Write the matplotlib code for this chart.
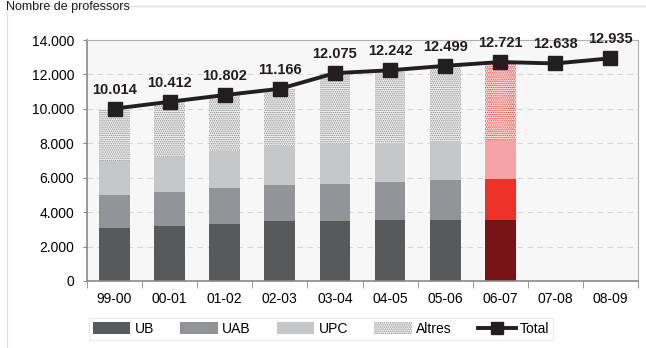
import numpy as np
import matplotlib.pyplot as plt
from matplotlib.lines import Line2D
from matplotlib.patches import Patch, Rectangle

plt.rcParams['font.family'] = ['Liberation Sans', 'DejaVu Sans']
plt.rcParams['hatch.linewidth'] = 0.7

cursos = ["99-00", "00-01", "01-02", "02-03", "03-04", "04-05", "05-06", "06-07", "07-08", "08-09"]
ub = [3100, 3200, 3320, 3490, 3490, 3550, 3550, 3570]
uab = [1910, 1980, 2100, 2100, 2160, 2220, 2330, 2370]
upc = [1980, 2000, 2150, 2230, 2310, 2230, 2230, 2270]
total = [10014, 10412, 10802, 11166, 12075, 12242, 12499, 12721, 12638, 12935]
altres = [t - a - b - c for t, a, b, c in zip(total, ub, uab, upc)]

grey = ["#58595b", "#929497", "#c6c7c9", "#f2f2f2"]
red = ["#7a1315", "#ee3129", "#f5a3a5", "#fde9e9"]
hatch_grey = "#8a8a8a"
hatch_red = "#ee3129"
patro = "........"

fig = plt.figure(figsize=(6.46, 3.48), dpi=100)
ax = fig.add_axes([87 / 646, 1 - 281 / 348, 551 / 646, 241 / 348])
ax.set_facecolor("#f7f7f7")

x = np.arange(len(cursos))
nb = len(ub)
w = 0.56
for i in range(nb):
    cols = red if i == 7 else grey
    hc = hatch_red if i == 7 else hatch_grey
    bottom = 0
    for j, serie in enumerate([ub, uab, upc, altres]):
        if j < 3:
            ax.bar(x[i], serie[i], w, bottom=bottom, color=cols[j], linewidth=0, zorder=2)
        else:
            ax.bar(x[i], serie[i], w, bottom=bottom, color=cols[j], edgecolor=hc,
                   hatch=patro, linewidth=0, zorder=2)
        bottom += serie[i]

ax.plot(x, total, color="#231f20", lw=2.8, marker="s", ms=10, zorder=4)
for xi, t in zip(x, total):
    ax.text(xi, t + 700, f"{t:,}".replace(",", "."), ha="center", va="bottom",
            fontsize=10.5, fontweight="bold", color="#231f20", zorder=5)

ax.set_xlim(-0.5, len(cursos) - 0.5)
ax.set_ylim(0, 14000)
ax.set_yticks(range(0, 14001, 2000))
ax.set_yticklabels(["0" if v == 0 else f"{v:,}".replace(",", ".") for v in range(0, 14001, 2000)],
                   fontsize=10)
ax.set_xticks(x)
ax.set_xticklabels(cursos, fontsize=10)
ax.set_xticks(np.arange(-0.5, len(cursos), 1), minor=True)
ax.tick_params(axis="x", which="major", length=0, pad=8)
ax.tick_params(axis="x", which="minor", length=5, color="#888888")
ax.tick_params(axis="y", length=3, color="#888888", pad=6)
ax.grid(axis="y", color="#d8d8d8", ls=(0, (5, 4)), lw=0.8, zorder=1)
ax.set_axisbelow(True)
for s in ["top", "right"]:
    ax.spines[s].set_color("#b0b0b0")
for s in ["left", "bottom"]:
    ax.spines[s].set_color("#888888")
    ax.spines[s].set_linewidth(1.2)

handles = [
    Patch(facecolor=grey[0], label="UB"),
    Patch(facecolor=grey[1], label="UAB"),
    Patch(facecolor=grey[2], label="UPC"),
    Patch(facecolor=grey[3], edgecolor=hatch_grey, hatch=patro, linewidth=0, label="Altres"),
    Line2D([], [], color="#231f20", lw=2.8, marker="s", ms=8, label="Total"),
]
leg = fig.legend(handles=handles, loc="center", bbox_to_anchor=(321 / 646, 1 - 329 / 348),
                 ncol=5, fontsize=10, frameon=True, fancybox=False, handlelength=2.7,
                 handleheight=0.9, columnspacing=1.9, handletextpad=0.3,
                 borderpad=0.3, edgecolor="#e6e6e6")
leg.get_frame().set_linewidth(0.8)

fig.patches.append(Rectangle((7 / 646, -0.05), 700 / 646, 1 - 6 / 348 + 0.05,
                             transform=fig.transFigure, fill=False,
                             edgecolor="#e2e2e2", lw=1))
fig.text(6 / 646, 1 - 1 / 348, "Nombre de professors", fontsize=9, va="top", color="#231f20")

fig.savefig("out.png", dpi=100)
